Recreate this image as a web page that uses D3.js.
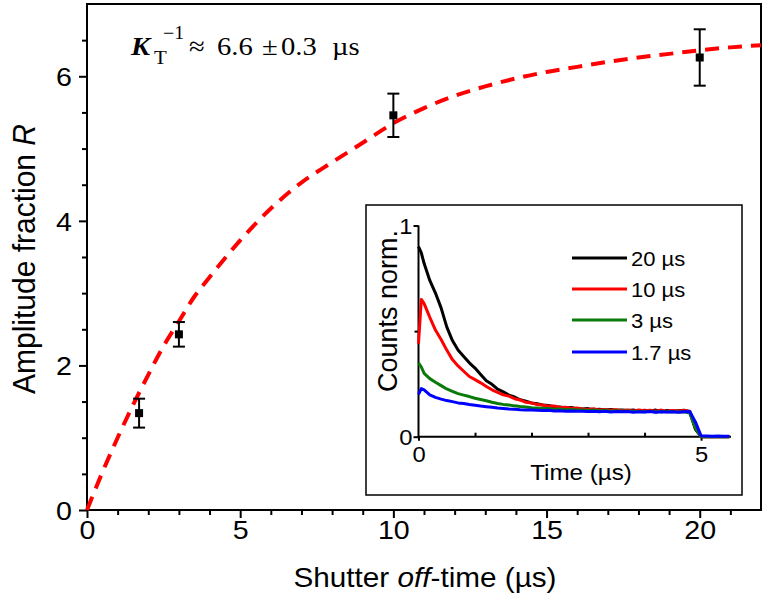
<!DOCTYPE html>
<html>
<head>
<meta charset="utf-8">
<script src="https://cdn.jsdelivr.net/npm/d3@7"></script>
<style>
  html, body { margin: 0; padding: 0; background: #fff; }
  svg { display: block; }
  text { font-family: "Liberation Sans", Arial, sans-serif; fill: #000; }
</style>
</head>
<body>
<svg id="chart" width="766" height="595"></svg>
<script>
// ---------- main data ----------
const offTimes = [1.7, 3, 10, 20];
const ampFraction = [1.34, 2.43, 5.46, 6.26];
const ampError = [0.20, 0.17, 0.30, 0.39];

// fitted curve
const fitT = [0, 0.5, 1, 1.5, 2, 2.5, 3, 3.5, 4, 5, 6, 7, 8, 9, 10, 11, 12, 13, 14, 15, 16, 17, 18, 19, 20, 21, 22];
const fitR = [0, 0.52, 1.0, 1.45, 1.87, 2.27, 2.61, 2.95, 3.22, 3.73, 4.17, 4.53, 4.81, 5.08, 5.35, 5.56, 5.73, 5.86, 5.97, 6.06, 6.13, 6.20, 6.26, 6.31, 6.36, 6.40, 6.43];

const xMajorTicks = [0, 5, 10, 15, 20];
const xMinorTicks = [1, 2, 3, 4, 6, 7, 8, 9, 11, 12, 13, 14, 16, 17, 18, 19, 21];
const yMajorTicks = [0, 2, 4, 6];
const yMinorTicks = [0.5, 1, 1.5, 2.5, 3, 3.5, 4.5, 5, 5.5, 6.5];

// ---------- inset data ----------
const insetTime = [0, 0.05, 0.1, 0.2, 0.3, 0.4, 0.5, 0.6, 0.7, 0.8, 0.9, 1.0, 1.1, 1.2, 1.3, 1.4, 1.5, 1.6, 1.7, 1.8, 1.9, 2.0,
  2.1, 2.2, 2.3, 2.4, 2.5, 2.6, 2.7, 2.8, 2.9, 3.0, 3.1, 3.2, 3.3, 3.4, 3.5, 3.6, 3.7, 3.8, 3.9, 4.0,
  4.1, 4.2, 4.3, 4.4, 4.5, 4.6, 4.7, 4.8, 4.9, 5.0, 5.1, 5.2, 5.3, 5.4, 5.5];
const counts20 = [0.90, 0.87, 0.82, 0.74, 0.68, 0.61, 0.52, 0.455, 0.41, 0.38, 0.35, 0.325, 0.295, 0.265, 0.248, 0.225, 0.212, 0.197, 0.188, 0.175, 0.168, 0.16,
  0.156, 0.150, 0.148, 0.142, 0.141, 0.136, 0.138, 0.133, 0.131, 0.133, 0.128, 0.130, 0.126, 0.129, 0.125, 0.127, 0.124, 0.127, 0.121, 0.125,
  0.122, 0.126, 0.118, 0.124, 0.121, 0.123, 0.125, 0.118, 0.035, 0.0, 0.0, 0.0, 0.0, 0.0, 0.0];
const counts10 = [0.44, 0.65, 0.63, 0.565, 0.505, 0.46, 0.41, 0.365, 0.335, 0.31, 0.285, 0.27, 0.255, 0.238, 0.222, 0.210, 0.198, 0.192, 0.180, 0.174, 0.163, 0.160,
  0.152, 0.150, 0.144, 0.145, 0.138, 0.140, 0.134, 0.136, 0.131, 0.129, 0.132, 0.126, 0.129, 0.125, 0.128, 0.123, 0.126, 0.122, 0.127, 0.123,
  0.125, 0.121, 0.126, 0.120, 0.124, 0.122, 0.124, 0.120, 0.045, 0.0, 0.0, 0.0, 0.0, 0.0, 0.0];
const counts3 = [0.35, 0.33, 0.30, 0.275, 0.258, 0.242, 0.226, 0.215, 0.204, 0.197, 0.190, 0.182, 0.176, 0.170, 0.163, 0.157, 0.153, 0.150, 0.146, 0.143, 0.141, 0.137,
  0.136, 0.133, 0.134, 0.130, 0.131, 0.128, 0.129, 0.126, 0.127, 0.124, 0.126, 0.122, 0.125, 0.121, 0.123, 0.120, 0.122, 0.119, 0.121, 0.118,
  0.121, 0.117, 0.120, 0.118, 0.119, 0.117, 0.118, 0.112, 0.04, 0.0, 0.0, 0.0, 0.0, 0.0, 0.0];
const counts17 = [0.20, 0.228, 0.222, 0.198, 0.186, 0.178, 0.171, 0.166, 0.160, 0.157, 0.152, 0.149, 0.145, 0.142, 0.139, 0.136, 0.134, 0.131, 0.130, 0.128, 0.127, 0.126,
  0.125, 0.124, 0.125, 0.122, 0.123, 0.121, 0.122, 0.120, 0.121, 0.119, 0.121, 0.118, 0.120, 0.117, 0.119, 0.118, 0.119, 0.116, 0.118, 0.117,
  0.119, 0.116, 0.118, 0.117, 0.118, 0.116, 0.118, 0.119, 0.07, 0.004, 0.003, 0.002, 0.003, 0.002, 0.002];

const legendLabels = ["20 \u00b5s", "10 \u00b5s", "3 \u00b5s", "1.7 \u00b5s"];
const legendColors = ["#000000", "#ff0000", "#0a7a0a", "#0000ff"];
const insetSeries = [counts20, counts10, counts3, counts17];
const insetXMajor = [0, 5];
const insetXMinor = [1, 2, 3, 4];
const insetYMajor = [0, 1];
const insetYMinor = [0.5];

// ---------- drawing ----------
const svg = d3.select("#chart");

const x = d3.scaleLinear().domain([0, 22]).range([87, 761]);
const y = d3.scaleLinear().domain([0, 7]).range([510, 4]);

function styleAxis(g) {
  g.select(".domain").remove();
  g.selectAll(".tick line").attr("stroke", "#000").attr("stroke-width", 2);
}
// tick labels slightly widened, keeping their anchor point
function stretchTicks(g, size, sx, xOff, yOff) {
  g.selectAll(".tick text")
    .attr("font-size", size)
    .attr("x", null).attr("y", null).attr("dy", null)
    .attr("transform", `translate(${xOff},${yOff}) scale(${sx},1)`);
}

// frame
svg.append("rect")
  .attr("x", x(0)).attr("y", y(7))
  .attr("width", x(22) - x(0)).attr("height", y(0) - y(7))
  .attr("fill", "none").attr("stroke", "#000").attr("stroke-width", 2);

// axes
svg.append("g").attr("transform", `translate(0,${y(0)})`)
  .call(d3.axisBottom(x).tickValues(xMinorTicks).tickSize(5).tickFormat(""))
  .call(styleAxis);
const gx = svg.append("g").attr("transform", `translate(0,${y(0)})`)
  .call(d3.axisBottom(x).tickValues(xMajorTicks).tickSize(8).tickFormat(d3.format("d")))
  .call(styleAxis);
gx.call(stretchTicks, 26, 1.1, 0, 29);

svg.append("g").attr("transform", `translate(${x(0)},0)`)
  .call(d3.axisLeft(y).tickValues(yMinorTicks).tickSize(5).tickFormat(""))
  .call(styleAxis);
const gy = svg.append("g").attr("transform", `translate(${x(0)},0)`)
  .call(d3.axisLeft(y).tickValues(yMajorTicks).tickSize(8).tickFormat(d3.format("d")))
  .call(styleAxis);
gy.call(stretchTicks, 26, 1.1, -15, 9.5);

// axis titles
const yt = svg.append("text")
  .attr("transform", `translate(35,${(y(0) + y(7)) / 2 + 2}) rotate(-90) scale(1,1.05)`)
  .attr("text-anchor", "middle").attr("font-size", 30);
yt.append("tspan").text("Amplitude fraction ");
yt.append("tspan").attr("font-style", "italic").text("R");

const xt = svg.append("text")
  .attr("transform", `translate(425,587) scale(1.1,1)`)
  .attr("text-anchor", "middle").attr("font-size", 27);
xt.append("tspan").text("Shutter ");
xt.append("tspan").attr("font-style", "italic").text("off");
xt.append("tspan").text("-time (\u00b5s)");

// fit curve
const fitLine = d3.line().x((d, i) => x(fitT[i])).y(d => y(d)).curve(d3.curveMonotoneX);
svg.append("path").datum(fitR)
  .attr("d", fitLine)
  .attr("fill", "none").attr("stroke", "#ff0000").attr("stroke-width", 4)
  .attr("stroke-dasharray", "14,9");

// error bars + points
const pts = svg.append("g");
offTimes.forEach((t, i) => {
  const cx = x(t), v = ampFraction[i], e = ampError[i];
  pts.append("line").attr("x1", cx).attr("x2", cx).attr("y1", y(v - e)).attr("y2", y(v + e))
    .attr("stroke", "#000").attr("stroke-width", 2);
  [v - e, v + e].forEach(c => {
    pts.append("line").attr("x1", cx - 6).attr("x2", cx + 6).attr("y1", y(c)).attr("y2", y(c))
      .attr("stroke", "#000").attr("stroke-width", 2);
  });
  pts.append("rect").attr("x", cx - 4).attr("y", y(v) - 4).attr("width", 8).attr("height", 8).attr("fill", "#000");
});

// annotation (Times-like serif)
const AX = 1.1;
const annG = svg.append("g").attr("transform", `translate(131,55) scale(${AX},1)`);
const serif = "'Liberation Serif', 'Times New Roman', serif";
function ann(txt, px, ly, size, italic, bold) {
  annG.append("text").attr("x", (px - 131) / AX).attr("y", ly).attr("font-size", size)
    .style("font-family", serif)
    .attr("font-style", italic ? "italic" : "normal")
    .attr("font-weight", bold ? "bold" : "normal")
    .text(txt);
}
ann("K", 131, 0, 26, true, true);
ann("T", 154, 9, 19, false, false);
ann("\u22121", 163, -16, 18, false, false);
ann("\u2248", 189, 0, 26, false, false);
ann("6.6", 217, 0, 26, false, false);
ann("\u00b1", 262, 0, 26, false, false);
ann("0.3", 281, 0, 26, false, false);
ann("\u00b5s", 332, 0, 26, false, false);

// ---------- inset ----------
svg.append("rect").attr("x", 366).attr("y", 205).attr("width", 376).attr("height", 290)
  .attr("fill", "#fff").attr("stroke", "#000").attr("stroke-width", 1.5);

const ix = d3.scaleLinear().domain([0, 5.53]).range([418.5, 731]);
const iy = d3.scaleLinear().domain([0, 1]).range([436.7, 225.5]);

svg.append("line").attr("x1", ix(0)).attr("x2", ix(5.53)).attr("y1", iy(0)).attr("y2", iy(0))
  .attr("stroke", "#000").attr("stroke-width", 2);
svg.append("line").attr("x1", ix(0)).attr("x2", ix(0)).attr("y1", iy(0) + 1).attr("y2", iy(1))
  .attr("stroke", "#000").attr("stroke-width", 2);

svg.append("g").attr("transform", `translate(0,${iy(0)})`)
  .call(d3.axisTop(ix).tickValues(insetXMinor).tickSize(4).tickFormat(""))
  .call(styleAxis);
const igx = svg.append("g").attr("transform", `translate(0,${iy(0)})`)
  .call(d3.axisBottom(ix).tickValues(insetXMajor).tickSize(4).tickFormat(d3.format("d")))
  .call(styleAxis);
igx.call(stretchTicks, 22, 1.08, 0, 25);

svg.append("g").attr("transform", `translate(${ix(0)},0)`)
  .call(d3.axisLeft(iy).tickValues(insetYMinor).tickSize(4).tickFormat(""))
  .call(styleAxis);
const igy = svg.append("g").attr("transform", `translate(${ix(0)},0)`)
  .call(d3.axisLeft(iy).tickValues(insetYMajor).tickSize(5).tickFormat(d3.format("d")))
  .call(styleAxis);
igy.call(stretchTicks, 22, 1.08, -6, 8);

svg.append("text").attr("transform", `translate(397,311) rotate(-90)`)
  .attr("text-anchor", "middle").attr("font-size", 27).text("Counts norm.");
svg.append("text").attr("transform", `translate(581,480) scale(1.1,1)`)
  .attr("text-anchor", "middle").attr("font-size", 22).text("Time (\u00b5s)");

// inset curves
const iline = d3.line().x((d, i) => ix(insetTime[i])).y(d => iy(d));
insetSeries.forEach((s, k) => {
  svg.append("path").datum(s).attr("d", iline)
    .attr("fill", "none").attr("stroke", legendColors[k]).attr("stroke-width", 3)
    .attr("stroke-linejoin", "round");
});

// legend
const legendY = [258, 289, 320, 352];
legendLabels.forEach((lab, k) => {
  svg.append("line").attr("x1", 572).attr("x2", 627).attr("y1", legendY[k]).attr("y2", legendY[k])
    .attr("stroke", legendColors[k]).attr("stroke-width", 3);
  svg.append("text").attr("transform", `translate(631,${legendY[k] + 8}) scale(1.1,1)`)
    .attr("font-size", 20).text(lab);
});
</script>
</body>
</html>
